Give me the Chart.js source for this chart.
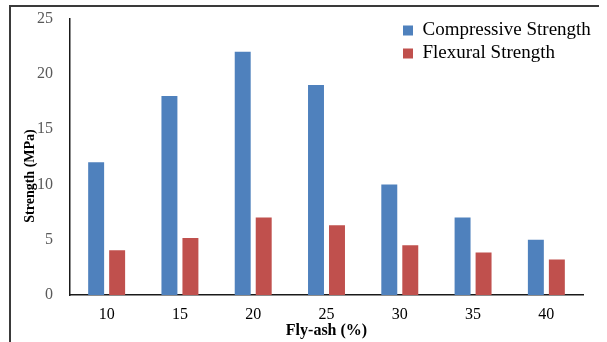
<!DOCTYPE html>
<html>
<head>
<meta charset="utf-8">
<script src="https://cdn.jsdelivr.net/npm/chart.js@4"></script>
<style>
  body { margin: 0; background: #ffffff; }
  #wrap { position: relative; width: 607px; height: 342px; }
  #frameLeft { position: absolute; left: 9px; top: 5px; width: 2px; height: 337px; background: #3a3a3a; }
  #frameTop { position: absolute; left: 9px; top: 5px; width: 590px; height: 2px; background: #3a3a3a; }
  canvas { position: absolute; left: 0; top: 0; }
</style>
</head>
<body>
<div id="wrap">
  <div id="frameLeft"></div>
  <div id="frameTop"></div>
  <canvas id="strengthChart" width="607" height="342"></canvas>
</div>
<script>
const flyAsh = ["10", "15", "20", "25", "30", "35", "40"]
const compressive = [12, 18, 22, 19, 10, 7, 5]
const flexural = [4.05, 5.15, 7.0, 6.3, 4.5, 3.85, 3.2]
const yTicks = [0, 5, 10, 15, 20, 25]

const serif = "'Liberation Serif', 'Times New Roman', serif"

// y title is drawn by hand so it can sit a little below the axis middle
const yTitlePlugin = {
    id: 'yTitle',
    afterDraw(chart) {
        const ctx = chart.ctx
        ctx.save()
        ctx.translate(30, 176)
        ctx.rotate(-Math.PI / 2)
        ctx.font = "bold 14px " + serif
        ctx.fillStyle = "#000000"
        ctx.textAlign = "center"
        ctx.textBaseline = "middle"
        ctx.fillText("Strength (MPa)", 0, 0)
        ctx.restore()
    }
}

// legend sits inside the plot, top right
const legendMove = {
    id: 'legendMove',
    afterLayout(chart) {
        const lg = chart.legend
        const w = lg.width
        const h = lg.height
        lg.left = 399
        lg.top = 17
        lg.right = lg.left + w
        lg.bottom = lg.top + h
    }
}

new Chart(document.getElementById("strengthChart"), {
    type: 'bar',
    data: {
        labels: flyAsh,
        datasets: [{
            label: 'Compressive Strength',
            data: compressive,
            backgroundColor: '#4F81BD',
            borderWidth: 0
        }, {
            label: 'Flexural Strength',
            data: flexural,
            backgroundColor: '#C0504D',
            borderWidth: 0
        }]
    },
    options: {
        responsive: false,
        animation: false,
        barPercentage: 0.76,
        categoryPercentage: 0.573,
        layout: {
            padding: { left: 14, right: 24, top: 8, bottom: 0 }
        },
        plugins: {
            tooltip: { enabled: false },
            legend: {
                position: 'chartArea',
                align: 'start',
                labels: {
                    boxWidth: 10,
                    boxHeight: 10,
                    padding: 4,
                    color: '#000000',
                    font: { family: serif, size: 19 }
                }
            }
        },
        scales: {
            x: {
                grid: { display: false },
                border: { display: true, color: '#1a1a1a', width: 1.5 },
                ticks: {
                    color: '#000000',
                    padding: 2,
                    font: { family: serif, size: 16 }
                },
                title: {
                    display: true,
                    text: 'Fly-ash (%)',
                    color: '#000000',
                    padding: { top: 0, bottom: 2 },
                    font: { family: serif, size: 16, weight: 'bold' }
                },
                afterFit(scale) { scale.height = 47 }
            },
            y: {
                min: 0,
                max: 25,
                grid: { display: false },
                border: { display: true, color: '#1a1a1a', width: 1.5 },
                afterBuildTicks(scale) {
                    scale.ticks = yTicks.map(v => ({ value: v }))
                },
                ticks: {
                    color: '#595959',
                    padding: 9,
                    font: { family: serif, size: 16 }
                },
                afterFit(scale) { scale.width = 56 }
            }
        }
    },
    plugins: [yTitlePlugin, legendMove]
});
</script>
</body>
</html>
